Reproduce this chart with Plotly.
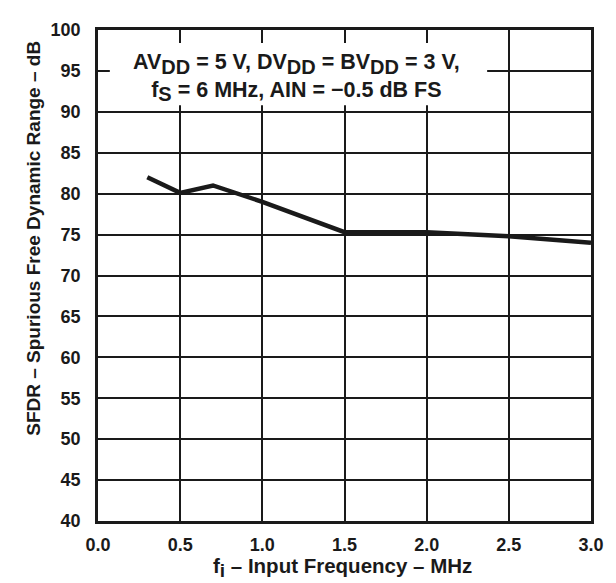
import plotly.graph_objects as go

# SFDR vs input frequency
freq_mhz = [0.3, 0.5, 0.7, 1.0, 1.5, 2.0, 2.5, 3.0]
sfdr_db = [82.0, 80.1, 81.0, 79.0, 75.3, 75.3, 74.8, 74.0]

x_ticks = [0.0, 0.5, 1.0, 1.5, 2.0, 2.5, 3.0]
x_labels = ["0.0", "0.5", "1.0", "1.5", "2.0", "2.5", "3.0"]
y_ticks = list(range(40, 101, 5))

FONT = "Liberation Sans, Arial, Helvetica, sans-serif"
INK = "#1a1a1a"


def sub(s, size=19):
    # subscript kept close to full size, like the original figure
    return f"<sub><span style='font-size:{size}px'>{s}</span></sub>"


fig = go.Figure()
fig.add_trace(go.Scatter(
    x=freq_mhz, y=sfdr_db, mode="lines",
    line=dict(color=INK, width=4.5),
    showlegend=False,
))

axis_common = dict(
    showgrid=True, gridcolor=INK, gridwidth=1.6,
    showline=True, linecolor=INK, linewidth=2.6, mirror=True,
    zeroline=False, ticks="",
    tickfont=dict(family=FONT, size=18, color=INK, weight="bold"),
)

fig.update_xaxes(range=[0, 3], tickvals=x_ticks, ticktext=x_labels,
                 ticklabelstandoff=6, **axis_common)
fig.update_yaxes(range=[40, 100], tickvals=y_ticks,
                 ticklabelstandoff=11, **axis_common)

# white box behind the conditions text (hides the gridlines)
fig.add_shape(type="rect", xref="x", yref="y",
              x0=0.072, x1=2.368, y0=90.8, y1=98.4,
              fillcolor="white", line=dict(width=0), layer="between")

fig.add_annotation(
    x=1.205, y=94.25, xref="x", yref="y",
    text="AV" + sub("DD", 20) + " = 5 V, DV" + sub("DD", 20) + " = BV" + sub("DD", 20) + " = 3 V,<br>"
         "f" + sub("S", 20) + " = 6 MHz, AIN = \u22120.5 dB FS",
    showarrow=False,
    font=dict(family=FONT, size=21.5, color=INK, weight="bold"),
)

fig.add_annotation(
    x=0.495, y=-0.095, xref="paper", yref="paper", yanchor="middle",
    text="f" + sub("i", 19) + " \u2013 Input Frequency \u2013 MHz", showarrow=False,
    font=dict(family=FONT, size=20.5, color=INK, weight="bold"),
)
fig.add_annotation(
    x=-0.155, y=0.575, xref="paper", yref="paper", textangle=-90,
    text="SFDR \u2013 Spurious Free Dynamic Range \u2013 dB", showarrow=False,
    font=dict(family=FONT, size=19, color=INK, weight="bold"),
)

# page body adds an 8px offset, so the figure is drawn 8px smaller
fig.update_layout(
    width=608, height=575,
    margin=dict(l=90, r=15, t=12, b=62),
    plot_bgcolor="white", paper_bgcolor="white",
)

fig.write_html("out.html")
